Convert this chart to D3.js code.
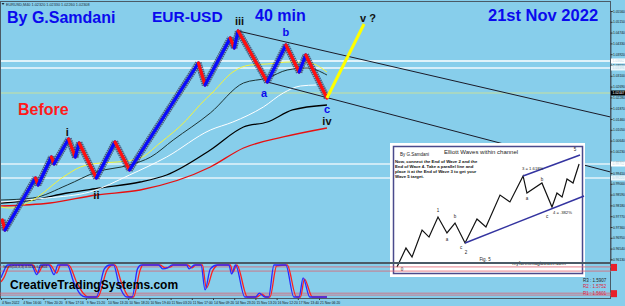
<!DOCTYPE html>
<html>
<head>
<meta charset="utf-8">
<script src="https://cdn.jsdelivr.net/npm/d3@7"></script>
<style>
html, body { margin: 0; padding: 0; background: #87ceeb; }
svg { display: block; font-family: "Liberation Sans", Arial, sans-serif; }
</style>
</head>
<body>
<svg id="chart" width="625" height="306"></svg>
<script>
// ---- data (bar index, price) ----
const waveBars   = [1, 3, 26, 28, 38, 40, 51, 56, 59, 72, 86, 97, 149, 154, 173, 176, 179, 201, 215, 225, 230, 246];
const wavePrices = [0.97626, 0.97246, 0.99220, 0.98955, 1.00019, 0.99752, 1.00701, 1.00017, 1.00549, 0.99220,
                    1.00587, 0.99524, 1.03586, 1.02751, 1.04535, 1.04155, 1.04801, 1.02865, 1.04269, 1.03244,
                    1.03890, 1.02257];

const projBars = [246, 274];
const projPrices = [1.02257, 1.05066];

const upperChBars = [179, 460];
const upperChPrices = [1.04801, 1.01536];
const lowerChBars = [201, 460];
const lowerChPrices = [1.02865, 0.99448];

const hLinePrices = [1.03662, 1.03396, 1.02447, 0.99752, 0.99220];
const bidPrice = 1.02447;

// moving averages
const maYellowBars = [0, 7, 24, 47, 60, 75, 88, 105, 120, 140, 150, 160, 175, 188, 201, 218, 233, 246];
const maYellow = [0.98119, 0.98081, 0.98385, 0.99258, 0.99638, 0.99790, 0.99828, 0.99979, 1.00549, 1.01422,
                  1.01991, 1.02485, 1.03244, 1.03510, 1.03548, 1.03624, 1.03586, 1.03244];
const maDarkBars = [0, 24, 50, 72, 97, 113, 130, 158, 183, 201, 216, 231, 246];
const maDark = [0.98385, 0.98461, 0.98954, 0.99448, 0.99714, 1.00017, 1.00663, 1.01688, 1.02827, 1.03016,
                1.03320, 1.03396, 1.03130];
const maWhiteBars = [0, 35, 67, 97, 125, 158, 175, 198, 213, 226, 238];
const maWhite = [0.98309, 0.98461, 0.98689, 0.99334, 1.00017, 1.01042, 1.01346, 1.01916, 1.02447, 1.02713, 1.02751];
const maBlackBars = [0, 24, 50, 75, 105, 125, 158, 183, 201, 220, 246];
const maBlack = [0.98271, 0.98385, 0.98651, 0.98841, 0.99068, 0.99334, 1.00283, 1.01156, 1.01346, 1.01802, 1.01991];
const maRedBars = [0, 37, 72, 105, 158, 183, 213, 246];
const maRed = [0.98157, 0.98271, 0.98575, 0.98765, 0.99638, 1.00359, 1.00777, 1.01118];

// stochastic (bar, value)
const stochRed = [[0,47],[2,59],[7,100],[24,100],[28,75],[32,100],[37,100],[42,75],[45,100],[51,100],[57,47],[62,12],
  [66,0],[73,0],[80,84],[84,100],[86,100],[91,44],[97,0],[100,0],[105,84],[107,100],[120,100],[124,91],[128,94],
  [130,100],[141,100],[144,91],[147,100],[152,100],[155,28],[160,84],[164,100],[173,100],[175,78],[178,100],
  [186,0],[193,0],[197,9],[200,0],[203,0],[208,97],[216,100],[223,0],[226,0],[229,56],[235,0],[246,0]];
const stochBlue = [[0,60],[1,70],[5,100],[23,100],[27,70],[30,100],[36,100],[40,70],[43,100],[50,100],[55,45],[60,8],
  [64,0],[72,0],[78,88],[82,100],[85,100],[89,40],[95,0],[99,0],[103,88],[106,100],[119,100],[122,88],[126,92],
  [129,100],[140,100],[142,88],[146,100],[151,100],[154,22],[158,88],[163,100],[172,100],[174,72],[177,100],
  [184,0],[192,0],[195,12],[199,0],[202,0],[206,100],[215,100],[221,0],[225,0],[228,60],[233,0],[246,0]];
const stochLevels = [94, 81, 12, 6];

// axis labels
const priceTicks = [1.05560, 1.05150, 1.04740, 1.04330, 1.03920, 1.03510, 1.03100, 1.02690, 1.02280, 1.01870,
  1.01460, 1.01050, 1.00640, 1.00230, 0.99820, 0.99410, 0.99000, 0.98590, 0.98180, 0.97770, 0.97360, 0.96950,
  0.96540, 0.96130];
const timeLabels = ["4 Nov 2022", "4 Nov 16:00", "7 Nov 20:20", "8 Nov 17:16", "9 Nov 15:20", "10 Nov 13:20",
  "10 Nov 18:20", "10 Nov 19:40", "11 Nov 03:20", "11 Nov 17:00", "14 Nov 09:20", "14 Nov 23:20",
  "15 Nov 13:20", "16 Nov 12:20", "17 Nov 13:40", "21 Nov 06:20"];

// wave labels: text, bar, price
const waveLabels = [["iii",180,1.05029],["i",50,1.00815],["ii",72,0.98423],["iv",246,1.01232],["v ?",277,1.05142]];
const abcLabels = [["a",198.5,1.02295],["b",215,1.04611],["c",246,1.01688]];

// inset (Elliott waves within channel), units 0..100
const insetWaveX = [0, 4.9, 8.2, 13.7, 17.5, 22.4, 27.3, 31.7, 37.2, 43.7, 48.6, 56.3, 61.7, 68.9, 71, 79.2, 84.7, 87.4, 90.2, 92.9, 96.2, 99.5];
const insetWaveY = [0, 16.2, 8.5, 31.6, 25.6, 42.7, 29.1, 37.6, 20.5, 41, 34.2, 61.5, 55.6, 77.8, 63.2, 71.8, 51.3, 63.2, 59.8, 75.2, 71.8, 88];
const insetLowX = [37.2, 102.2], insetLowY = [20.5, 60.7];
const insetHighX = [68.9, 100], insetHighY = [77.8, 95.7];
const insetLabels = [["0",2.7,-3.4],["1",22.4,47],["a",27.3,22.2],["b",31.7,41.9],["c",35,15.4],["2",37.7,11.1],
  ["a",71,57.3],["b",79.2,73.5],["c",82,41.9],["5",97.3,99.1]];

// ---- drawing ----
const svg = d3.select("#chart");
const W = 625, H = 306;

const x = d3.scaleLinear().domain([0, 460]).range([1, 610.5]);
const y = d3.scaleLinear().domain([1.0556, 0.9613]).range([11, 259.4]);
const ys = d3.scaleLinear().domain([0, 100]).range([297, 265]);

svg.append("rect").attr("width", W).attr("height", H).attr("fill", "#87ceeb");

const defs = svg.append("defs");
defs.append("clipPath").attr("id", "mainClip")
  .append("rect").attr("x", 1).attr("y", 2).attr("width", 609.5).attr("height", 260);
defs.append("clipPath").attr("id", "subClip")
  .append("rect").attr("x", 1).attr("y", 263).attr("width", 609.5).attr("height", 35);

const main = svg.append("g").attr("clip-path", "url(#mainClip)");

// horizontal lines
const hColors = ["#ffffff", "#d6eef9", "#d8e688", "#e4f3fa", "#e4f3fa"];
const hWidths = [1.3, 2, 0.8, 1.5, 1.5];
main.selectAll(".hl").data(hLinePrices).enter().append("line")
  .attr("x1", 0).attr("x2", 611)
  .attr("y1", d => y(d)).attr("y2", d => y(d))
  .attr("stroke", (d, i) => hColors[i])
  .attr("stroke-width", (d, i) => hWidths[i]);

// moving averages
function maLine(bars, vals, color, w) {
  const line = d3.line().x(d => x(d[0])).y(d => y(d[1])).curve(d3.curveMonotoneX);
  main.append("path").datum(bars.map((b, i) => [b, vals[i]]))
    .attr("d", line).attr("fill", "none").attr("stroke", color).attr("stroke-width", w);
}
maLine(maRedBars, maRed, "#e81010", 1.3);
maLine(maBlackBars, maBlack, "#000000", 1.3);
maLine(maWhiteBars, maWhite, "#ffffff", 1);
maLine(maDarkBars, maDark, "#1c3434", 1);
maLine(maYellowBars, maYellow, "#f4f43a", 1);

// channel lines
[[upperChBars, upperChPrices], [lowerChBars, lowerChPrices]].forEach(([bs, ps]) => {
  main.append("line")
    .attr("x1", x(bs[0])).attr("y1", y(ps[0]))
    .attr("x2", x(bs[1])).attr("y2", y(ps[1]))
    .attr("stroke", "#1a1a28").attr("stroke-width", 1);
});

// zigzag price bricks
const pts = waveBars.map((b, i) => ({ b: b, p: wavePrices[i] }));
const segs = d3.pairs(pts);
main.selectAll(".shadow").data(segs).enter().append("line")
  .attr("x1", d => x(d[0].b)).attr("y1", d => y(d[0].p))
  .attr("x2", d => x(d[1].b)).attr("y2", d => y(d[1].p))
  .attr("stroke", "#3a3a5c").attr("stroke-width", 6.5).attr("stroke-opacity", 0.75)
  .attr("stroke-dasharray", "1.6 0.6")
  .attr("stroke-linecap", "butt");
main.selectAll(".brick").data(segs).enter().append("line")
  .attr("x1", d => x(d[0].b)).attr("y1", d => y(d[0].p))
  .attr("x2", d => x(d[1].b)).attr("y2", d => y(d[1].p))
  .attr("stroke", d => d[1].p > d[0].p ? "#0a0aff" : "#ff1010")
  .attr("stroke-width", 3.2).attr("stroke-linecap", "round");

// projected wave v
main.append("line")
  .attr("x1", x(projBars[0])).attr("y1", y(projPrices[0]))
  .attr("x2", x(projBars[1])).attr("y2", y(projPrices[1]))
  .attr("stroke", "#ffff00").attr("stroke-width", 3);

// wave labels
main.selectAll(".wl").data(waveLabels).enter().append("text")
  .attr("x", d => x(d[1])).attr("y", d => y(d[2]))
  .attr("text-anchor", "middle").attr("font-size", 11).attr("font-weight", "bold")
  .attr("fill", "#111").text(d => d[0]);
main.selectAll(".abc").data(abcLabels).enter().append("text")
  .attr("x", d => x(d[1])).attr("y", d => y(d[2]))
  .attr("text-anchor", "middle").attr("font-size", 11).attr("font-weight", "bold")
  .attr("fill", "#0a0aee").text(d => d[0]);

// titles
svg.append("text").attr("x", 7).attr("y", 23).attr("font-size", 16).attr("font-weight", "bold")
  .attr("fill", "#0a0aee").text("By G.Samdani");
svg.append("text").attr("x", 152).attr("y", 21.5).attr("font-size", 15.5).attr("font-weight", "bold")
  .attr("fill", "#0a0aee").text("EUR-USD");
svg.append("text").attr("x", 255).attr("y", 21).attr("font-size", 16).attr("font-weight", "bold")
  .attr("fill", "#0a0aee").text("40 min");
svg.append("text").attr("x", 488).attr("y", 20.5).attr("font-size", 16.5).attr("font-weight", "bold")
  .attr("fill", "#0a0aee").text("21st Nov 2022");
svg.append("text").attr("x", 18).attr("y", 115).attr("font-size", 16).attr("font-weight", "bold")
  .attr("fill", "#ff1a1a").text("Before");
svg.append("text").attr("x", 6).attr("y", 5.5).attr("font-size", 3.8).attr("fill", "#1a2a3a")
  .text("EURUSD,M40  1.02320 1.02330 1.02260 1.02308");
svg.append("path").attr("d", "M1.5,3 L4.5,3 L3,5 Z").attr("fill", "#1a2a3a");

// inset picture
const inset = svg.append("g");
inset.append("rect").attr("x", 390).attr("y", 143).attr("width", 195).attr("height", 134).attr("fill", "#ffffff");
inset.append("rect").attr("x", 393.5).attr("y", 146.5).attr("width", 189).attr("height", 127)
  .attr("fill", "none").attr("stroke", "#4a4a8c").attr("stroke-width", 1.5);
const ix = d3.scaleLinear().domain([0, 100]).range([397, 580]);
const iy = d3.scaleLinear().domain([0, 100]).range([267, 150]);
inset.append("path")
  .datum(insetWaveX.map((v, i) => [v, insetWaveY[i]]))
  .attr("d", d3.line().x(d => ix(d[0])).y(d => iy(d[1])))
  .attr("fill", "none").attr("stroke", "#111").attr("stroke-width", 1.2);
[[insetLowX, insetLowY], [insetHighX, insetHighY]].forEach(([xs, vs]) => {
  inset.append("line")
    .attr("x1", ix(xs[0])).attr("y1", iy(vs[0])).attr("x2", ix(xs[1])).attr("y2", iy(vs[1]))
    .attr("stroke", "#3434a0").attr("stroke-width", 1.5);
});
inset.selectAll(".il").data(insetLabels).enter().append("text")
  .attr("x", d => ix(d[1])).attr("y", d => iy(d[2]))
  .attr("text-anchor", "middle").attr("font-size", 4.5).attr("fill", "#222").text(d => d[0]);
inset.append("text").attr("x", ix(68.3)).attr("y", iy(82.9)).attr("font-size", 4.2).attr("fill", "#222").text("3 = 1.618%");
inset.append("text").attr("x", ix(85.2)).attr("y", iy(45.3)).attr("font-size", 4.2).attr("fill", "#222").text("4 = .382%");
inset.append("text").attr("x", ix(48.1)).attr("y", iy(5.1)).attr("text-anchor", "middle")
  .attr("font-size", 4.5).attr("fill", "#222").text("Fig. 5");
inset.append("text").attr("x", ix(77.6)).attr("y", iy(1.7)).attr("text-anchor", "middle")
  .attr("font-size", 5).attr("fill", "#222").text("myforexmagicwave.com");
inset.append("text").attr("x", 481).attr("y", 153.5).attr("text-anchor", "middle")
  .attr("font-size", 6).attr("fill", "#222").text("Elliott Waves within channel");
inset.append("text").attr("x", 400).attr("y", 156).attr("font-size", 4.5).attr("fill", "#222").text("By G.Samdani");
const note = ["Now, connect the End of Wave 2 and the", "End of Wave 4. Take a parallel line and",
  "place it at the End of Wave 3 to get your", "Wave 5 target."];
inset.selectAll(".note").data(note).enter().append("text")
  .attr("x", 395).attr("y", (d, i) => 162.5 + i * 5)
  .attr("font-size", 4.3).attr("font-weight", "bold").attr("fill", "#111").text(d => d);

// frame
svg.append("rect").attr("x", 0.5).attr("y", 1.5).attr("width", 610).attr("height", 261)
  .attr("fill", "none").attr("stroke", "#4a5a66").attr("stroke-width", 1);

// price axis
const yAxis = d3.axisRight(y).tickValues(priceTicks).tickSize(2).tickFormat(d3.format(".5f"));
const ya = svg.append("g").attr("transform", "translate(610.5,0)").call(yAxis);
ya.select(".domain").attr("stroke", "#4a5a66");
ya.selectAll("line").attr("stroke", "#333");
ya.selectAll("text").attr("font-size", 3.3).attr("fill", "#111").attr("x", 2.5)
  .attr("font-family", "'Liberation Sans', Arial, sans-serif");

// highlighted price boxes
const boxFill = ["#ffffff", "#eaf6fb", "#000000", "#ffffff", "#eaf6fb"];
svg.selectAll(".pbox").data(hLinePrices).enter().append("rect")
  .attr("x", 611).attr("y", d => y(d) - 2.5).attr("width", 14).attr("height", 5)
  .attr("fill", (d, i) => boxFill[i]);
svg.selectAll(".ptxt").data(hLinePrices).enter().append("text")
  .attr("x", 612.5).attr("y", d => y(d) + 1.2).attr("font-size", 3.3)
  .attr("fill", d => d === bidPrice ? "#ffffff" : "#b8d8e8").text(d => d.toFixed(5));

// stochastic panel
const sub = svg.append("g");
sub.append("line").attr("x1", 0).attr("x2", 611).attr("y1", 263.5).attr("y2", 263.5).attr("stroke", "#4a5a66");
sub.append("line").attr("x1", 0).attr("x2", 611).attr("y1", 298.5).attr("y2", 298.5).attr("stroke", "#4a5a66");
sub.append("line").attr("x1", 0.5).attr("x2", 0.5).attr("y1", 263).attr("y2", 299).attr("stroke", "#4a5a66");
sub.append("line").attr("x1", 610.5).attr("x2", 610.5).attr("y1", 263).attr("y2", 299).attr("stroke", "#4a5a66");
sub.selectAll(".lvl").data(stochLevels).enter().append("line")
  .attr("x1", 0).attr("x2", 611).attr("y1", d => ys(d)).attr("y2", d => ys(d))
  .attr("stroke", "#e06070").attr("stroke-width", 0.8);
const sline = d3.line().x(d => x(d[0])).y(d => ys(d[1])).curve(d3.curveMonotoneX);
const sc = sub.append("g").attr("clip-path", "url(#subClip)");
sc.append("path").datum(stochRed).attr("d", sline).attr("fill", "none").attr("stroke", "#ff2020").attr("stroke-width", 1.3);
sc.append("path").datum(stochBlue).attr("d", sline).attr("fill", "none").attr("stroke", "#2a2aff").attr("stroke-width", 1.3);
sub.append("text").attr("x", 3).attr("y", 268).attr("font-size", 3.5).attr("fill", "#223")
  .text("Stoch(14,3,3) 4.5116 6.2804");
sub.append("text").attr("x", 10).attr("y", 289).attr("font-size", 12).attr("font-weight", "bold")
  .attr("fill", "#000").text("CreativeTradingSystems.com");

// pivot boxes and labels
const pivotTexts = [["R3 : 1.5907", "#222"], ["R2 : 1.5752", "#e02040"], ["R1 : 1.5601", "#e02040"]];
sub.selectAll(".piv").data(pivotTexts).enter().append("text")
  .attr("x", 583).attr("y", (d, i) => 282 + i * 6.3).attr("font-size", 4.5).attr("fill", d => d[1]).text(d => d[0]);
sub.selectAll(".pbx").data([stochLevels[0], stochLevels[2]]).enter().append("rect")
  .attr("x", 611).attr("y", d => ys(d) - 3).attr("width", 6).attr("height", 7).attr("fill", "#e8202a");

// time axis
const xAxis = d3.axisBottom(x).tickValues(d3.range(0, 256, 16)).tickSize(1.5)
  .tickFormat((d, i) => timeLabels[i]);
const xa = svg.append("g").attr("transform", "translate(0,298.5)").call(xAxis);
xa.select(".domain").remove();
xa.selectAll("line").attr("stroke", "#333");
xa.selectAll("text").attr("font-size", 3.4).attr("fill", "#111").attr("text-anchor", "start")
  .attr("dx", 0.5).attr("y", 3).attr("font-family", "'Liberation Sans', Arial, sans-serif");
</script>
</body>
</html>
